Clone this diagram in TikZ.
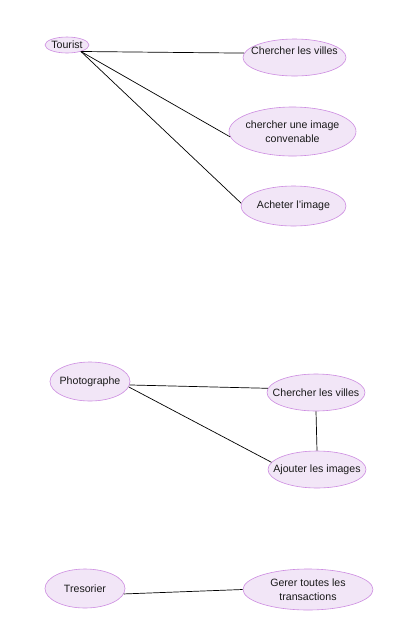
\documentclass[tikz,border=0pt]{standalone}
\usepackage{fontspec}
\setmainfont{Liberation Sans}
\usetikzlibrary{shapes.geometric}
\definecolor{ucfill}{RGB}{242,230,247}
\definecolor{ucdraw}{RGB}{205,140,225}
\tikzset{
  uc/.style={ellipse, draw=ucdraw, fill=ucfill, line width=0.6pt, inner sep=0pt},
  uctext/.style={font=\fontsize{10.6}{14.5}\selectfont, align=center, text=black!90, inner sep=0pt},
  conn/.style={draw=black, line width=0.7pt}
}
\begin{document}
\begin{tikzpicture}[x=1pt,y=-1pt]
\useasboundingbox[fill=white] (0,0) rectangle (405,641);
% Tourist group
\node[uc, minimum width=44pt, minimum height=16pt] (tourist) at (67,45) {};
\node[uctext] (touristt) at (tourist.center) {Tourist};
\node[uc, minimum width=103pt, minimum height=37pt] (c1) at (294.5,57.5) {};
\node[uctext] (c1t) at (294.5,50.5) {Chercher les villes};
\node[uc, minimum width=127pt, minimum height=49pt] (c2) at (292.5,131.5) {};
\node[uctext] (c2t) at (c2.center) {chercher une image\\convenable};
\node[uc, minimum width=105pt, minimum height=40pt] (c3) at (293.5,206) {};
\node[uctext] (c3t) at (c3.center) {Acheter l'image};
\draw[conn] (tourist.-25) -- (c1.175);
\draw[conn] (tourist.-25) -- (c2.185);
\draw[conn] (tourist.-25) -- (c3.177);
% Photographe group
\node[uc, minimum width=80pt, minimum height=39pt] (photo) at (90,381.5) {};
\node[uctext] (photot) at (photo.center) {Photographe};
\node[uc, minimum width=98pt, minimum height=37pt] (c4) at (316,392.5) {};
\node[uctext] (c4t) at (c4.center) {Chercher les villes};
\node[uc, minimum width=98pt, minimum height=37pt] (c5) at (317,469.5) {};
\node[uctext] (c5t) at (c5.center) {Ajouter les images};
\draw[conn] (photo.-5) -- (c4.175);
\draw[conn] (photo.-8) -- (c5.171);
\draw[conn] (c4.south) -- (c5.north);
% Tresorier group
\node[uc, minimum width=80pt, minimum height=39pt] (tres) at (85,588.5) {};
\node[uctext] (trest) at (tres.center) {Tresorier};
\node[uc, minimum width=130pt, minimum height=41pt] (c6) at (308,589.5) {};
\node[uctext, font=\fontsize{10.6}{14}\selectfont] (c6t) at (c6.center) {Gerer toutes les\\transactions};
\draw[conn] (tres.-8) -- (c6.west);
\end{tikzpicture}
\end{document}
